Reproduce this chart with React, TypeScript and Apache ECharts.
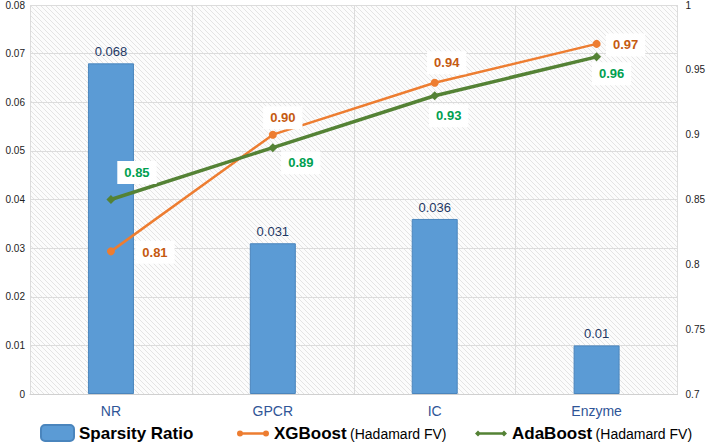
import React, { useEffect, useRef } from "react";
import * as echarts from "echarts";

const categories = ["NR", "GPCR", "IC", "Enzyme"];
const sparsity = [0.068, 0.031, 0.036, 0.01];
const xgboost = [0.81, 0.90, 0.94, 0.97];
const adaboost = [0.85, 0.89, 0.93, 0.96];
const xgOffsets = [[44, 1], [10, -17], [12, -20], [29, 1]];
const adaOffsets = [[26, -27], [28, 15], [14, 20], [15, 17]];

const circleIcon =
  "path://M3,3.8 L29,3.8 L29,6.2 L3,6.2 Z M0,5 A3,3 0 1,1 6,5 A3,3 0 1,1 0,5 Z M26,5 A3,3 0 1,1 32,5 A3,3 0 1,1 26,5 Z M0,0 L0.01,0 L0.01,0.01 Z M0,10 L0.01,10 L0.01,9.99 Z";
const diamondIcon =
  "path://M3,3.8 L29,3.8 L29,6.2 L3,6.2 Z M0,5 L3,2 L6,5 L3,8 Z M26,5 L29,2 L32,5 L29,8 Z M0,0 L0.01,0 L0.01,0.01 Z M0,10 L0.01,10 L0.01,9.99 Z";

function makePattern(): string {
  const c = document.createElement("canvas");
  c.width = 5;
  c.height = 5;
  const ctx = c.getContext("2d")!;
  ctx.fillStyle = "#fcfcfc";
  ctx.fillRect(0, 0, 5, 5);
  ctx.strokeStyle = "#e4e4e4";
  ctx.lineWidth = 1;
  ctx.beginPath();
  ctx.moveTo(0, 0);
  ctx.lineTo(5, 5);
  ctx.moveTo(-2.5, 2.5);
  ctx.lineTo(2.5, 7.5);
  ctx.moveTo(2.5, -2.5);
  ctx.lineTo(7.5, 2.5);
  ctx.stroke();
  return c.toDataURL();
}

const FONT = "Liberation Sans";

export default function App() {
  const ref = useRef<HTMLDivElement>(null);
  useEffect(() => {
    const chart = echarts.init(ref.current!, undefined, { renderer: "svg" });
    const labelBox = {
      backgroundColor: "#ffffff",
      padding: [5, 7],
      fontWeight: "bold",
      fontSize: 13,
      fontFamily: FONT,
    };
    const legendCommon = {
      bottom: 1,
      textStyle: {
        fontFamily: FONT,
        color: "#000",
        rich: {
          b: { fontWeight: "bold", fontSize: 17, fontFamily: FONT, color: "#000" },
          n: { fontSize: 14, fontFamily: FONT, color: "#000" },
        },
      },
      formatter: (name: string) =>
        name === "Sparsity Ratio" ? "{b|Sparsity Ratio}" : `{b|${name}} {n|(Hadamard FV)}`,
    };
    chart.setOption({
      animation: false,
      textStyle: { fontFamily: FONT },
      grid: {
        left: 30,
        right: 28,
        top: 5,
        bottom: 54,
        show: true,
        borderWidth: 0,
        backgroundColor: { image: makePattern(), repeat: "repeat" },
      },
      legend: [
        { ...legendCommon, left: 35, itemWidth: 33, itemHeight: 16, data: ["Sparsity Ratio"] },
        {
          ...legendCommon,
          left: 232,
          itemWidth: 32,
          itemHeight: 10,
          data: [{ name: "XGBoost", icon: circleIcon }],
        },
        {
          ...legendCommon,
          left: 470,
          itemWidth: 32,
          itemHeight: 10,
          data: [{ name: "AdaBoost", icon: diamondIcon }],
        },
      ],
      xAxis: {
        type: "category",
        data: categories,
        axisTick: { show: false },
        axisLine: { lineStyle: { color: "#d0d0d0" } },
        axisLabel: { color: "#2f5597", fontSize: 14, margin: 10 },
        splitLine: { show: true, lineStyle: { color: "#dcdcdc" } },
      },
      yAxis: [
        {
          type: "value",
          min: 0,
          max: 0.08,
          interval: 0.01,
          position: "left",
          axisLabel: {
            color: "#222",
            fontSize: 10,
            margin: 5,
            formatter: (v: number) => (v === 0 ? "0" : v.toFixed(2)),
          },
          axisLine: { show: false },
          axisTick: { show: false },
          splitLine: { lineStyle: { color: "#dcdcdc" } },
        },
        {
          type: "value",
          min: 0.7,
          max: 1,
          interval: 0.05,
          position: "right",
          axisLabel: {
            color: "#222",
            fontSize: 10,
            margin: 8,
            formatter: (v: number) => String(Number(v.toFixed(2))),
          },
          axisLine: { show: false },
          axisTick: { show: false },
          splitLine: { show: false },
        },
      ],
      series: [
        {
          name: "Sparsity Ratio",
          type: "bar",
          data: sparsity,
          barWidth: 46,
          itemStyle: { color: "#5b9bd5", borderColor: "#4a85bd", borderWidth: 1 },
          label: {
            show: true,
            position: "top",
            color: "#1f3864",
            fontSize: 13,
            fontFamily: FONT,
          },
        },
        {
          name: "XGBoost",
          type: "line",
          yAxisIndex: 1,
          symbol: "circle",
          symbolSize: 8,
          lineStyle: { color: "#ed7d31", width: 2.5 },
          itemStyle: { color: "#ed7d31" },
          data: xgboost.map((v, i) => ({
            value: v,
            label: {
              show: true,
              position: "inside",
              offset: xgOffsets[i],
              color: "#c55a11",
              ...labelBox,
              formatter: (p: any) => Number(p.value).toFixed(2),
            },
          })),
        },
        {
          name: "AdaBoost",
          type: "line",
          yAxisIndex: 1,
          symbol: "diamond",
          symbolSize: 9,
          lineStyle: { color: "#548235", width: 3.5 },
          itemStyle: { color: "#548235" },
          data: adaboost.map((v, i) => ({
            value: v,
            label: {
              show: true,
              position: "inside",
              offset: adaOffsets[i],
              color: "#00a050",
              ...labelBox,
              formatter: (p: any) => Number(p.value).toFixed(2),
            },
          })),
        },
      ],
    });
    return () => chart.dispose();
  }, []);
  return (
    <div
      ref={ref}
      style={{ width: 708, height: 448, position: "absolute", left: 0, top: 0 }}
    />
  );
}
